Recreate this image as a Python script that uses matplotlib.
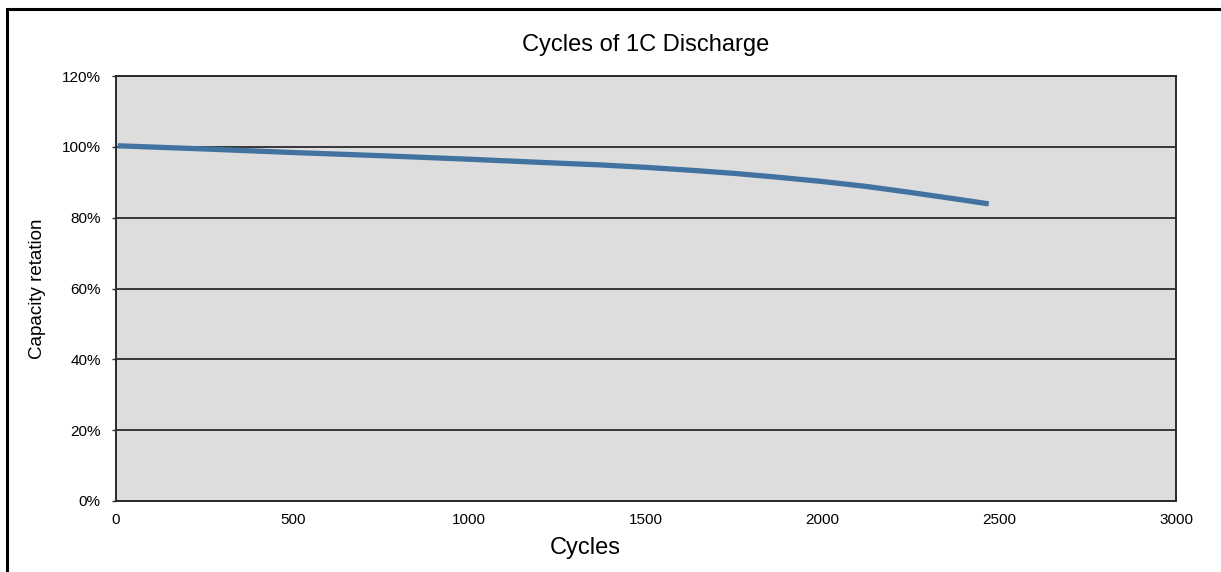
import matplotlib
matplotlib.use("Agg")
import matplotlib.pyplot as plt
from matplotlib.patches import Rectangle
from matplotlib.ticker import FuncFormatter

# ------------------------------
# Data
# ------------------------------
cycles = [5, 250, 500, 750, 1000, 1250, 1370, 1500, 1625, 1750, 1875,
          2000, 2125, 2250, 2375, 2470]
retention = [100.3, 99.4, 98.4, 97.5, 96.5, 95.4, 94.9, 94.2, 93.4, 92.5, 91.4,
             90.2, 88.8, 87.1, 85.3, 83.9]

x_ticks = [0, 500, 1000, 1500, 2000, 2500, 3000]
y_ticks = [0, 20, 40, 60, 80, 100, 120]

plt.rcParams['font.family'] = ['Liberation Sans', 'DejaVu Sans']

fig = plt.figure(figsize=(12.21, 5.72), dpi=100)
ax = fig.add_axes([116 / 1221, 1 - 501 / 572, 1060 / 1221, 425 / 572])

# outer frame (cut off on right and bottom like the reference)
fig.patches.append(Rectangle((6.5 / 1221, -0.1), 1.2, 1 - 9 / 572 + 0.1,
                             transform=fig.transFigure, fill=False,
                             edgecolor='black', linewidth=2.2, zorder=0))

ax.set_facecolor('#dddddd')
ax.plot(cycles, retention, color='#4272a0', linewidth=3.8,
        solid_capstyle='butt', solid_joinstyle='round', zorder=3)

ax.set_xlim(0, 3000)
ax.set_ylim(0, 120)
ax.set_xticks(x_ticks)
ax.set_yticks(y_ticks)
ax.yaxis.set_major_formatter(FuncFormatter(lambda v, p: f"{int(v)}%"))
ax.yaxis.grid(True, color='#2a2a2a', linewidth=1.3)
ax.set_axisbelow(True)

for s in ax.spines.values():
    s.set_color('#2a2a2a')
    s.set_linewidth(1.4)

ax.tick_params(axis='x', length=0, pad=9, labelsize=11)
ax.tick_params(axis='y', length=3, width=1, color='#2a2a2a', pad=8, labelsize=11)

fig.text(646 / 1221, 1 - 45 / 572, "Cycles of 1C Discharge", ha='center', va='center', fontsize=17)
fig.text(585 / 1221, 1 - 548 / 572, "Cycles", ha='center', va='center', fontsize=17)
fig.text(37 / 1221, 1 - 289 / 572, "Capacity retation", ha='center', va='center',
         rotation=90, fontsize=13.5)

plt.savefig("out.png", dpi=100)
